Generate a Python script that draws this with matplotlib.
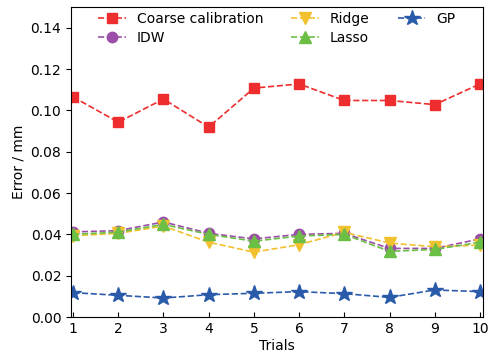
import matplotlib
matplotlib.use("Agg")
import matplotlib.pyplot as plt

trials = [1, 2, 3, 4, 5, 6, 7, 8, 9, 10]
coarse = [0.1065, 0.0943, 0.1055, 0.0919, 0.1108, 0.1128, 0.1048, 0.1048, 0.1028, 0.1128]
idw = [0.0412, 0.0418, 0.0460, 0.0405, 0.0378, 0.0400, 0.0405, 0.0332, 0.0332, 0.0378]
ridge = [0.0393, 0.0405, 0.0440, 0.0362, 0.0314, 0.0350, 0.0410, 0.0358, 0.0340, 0.0348]
lasso = [0.0400, 0.0411, 0.0448, 0.0400, 0.0367, 0.0392, 0.0400, 0.0318, 0.0327, 0.0362]
gp = [0.0118, 0.0105, 0.0092, 0.0108, 0.0115, 0.0123, 0.0113, 0.0095, 0.0131, 0.0123]
labels = ["Coarse calibration", "IDW", "Ridge", "Lasso", "GP"]

fig = plt.figure(figsize=(4.9, 3.55), dpi=100)
ax = fig.add_axes([0.145, 0.107, 0.84, 0.873])

styles = [
    (coarse, "#EE2E2E", "s", 7.5),
    (idw, "#9B4FA8", "o", 7.5),
    (ridge, "#F2C12E", "v", 8.5),
    (lasso, "#6CBF45", "^", 8.5),
    (gp, "#2A5BAA", "*", 11.5),
]
handles = []
for (vals, col, mk, ms), lab in zip(styles, labels):
    h, = ax.plot(trials, vals, linestyle="--", color=col, marker=mk,
                 markersize=ms, linewidth=1.2, label=lab)
    handles.append(h)

ax.set_xlim(0.955, 10.06)
ax.set_ylim(0, 0.15)
ax.set_xticks(trials)
ax.set_yticks([0.0, 0.02, 0.04, 0.06, 0.08, 0.10, 0.12, 0.14])
ax.set_yticklabels([f"{v:.2f}" for v in ax.get_yticks()])
ax.tick_params(axis="x", direction="in", labelsize=10)
ax.tick_params(axis="y", direction="out", labelsize=10)
ax.set_xlabel("Trials", fontsize=10, labelpad=2)
ax.set_ylabel("Error / mm", fontsize=10)

ax.legend(handles=handles, loc="upper center", ncol=3, frameon=False,
          fontsize=10, handlelength=2.0, columnspacing=2.0,
          borderaxespad=0.2, handletextpad=0.8, labelspacing=0.3,
          bbox_to_anchor=(0.5, 1.01))

fig.savefig("out.png", dpi=100)
